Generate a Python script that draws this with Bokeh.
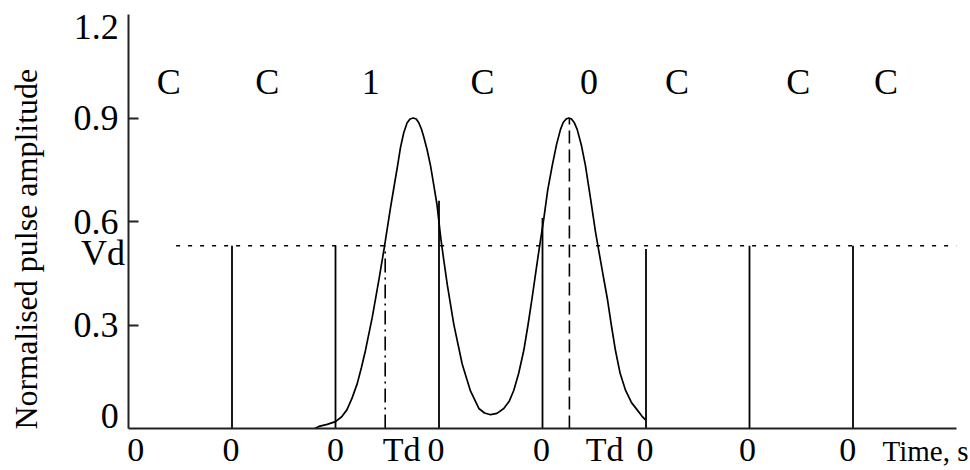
import math
from bokeh.plotting import figure
from bokeh.models import Range1d, FixedTicker
from bokeh.core.properties import value
from bokeh.embed import file_html
from bokeh.resources import INLINE

# ---- data ----
vd_level = 0.53
vd_line_t = [0.46, 8.0]

sample_t = [1, 2, 3, 4, 5, 6, 7]
sample_v = [0.53, 0.53, 0.66, 0.61, 0.52, 0.53, 0.53]

curve_t = [1.80, 1.84, 1.92, 2.00, 2.06, 2.11, 2.16, 2.21, 2.25, 2.29, 2.355, 2.42, 2.473,
           2.53, 2.565, 2.60, 2.628, 2.66, 2.692, 2.72, 2.751, 2.78, 2.805, 2.83, 2.853,
           2.885, 2.918, 2.95, 2.98, 3.02, 3.05, 3.08, 3.143, 3.224, 3.304, 3.385, 3.44,
           3.498, 3.56, 3.626, 3.68, 3.723, 3.77, 3.819, 3.86, 3.90, 3.964, 4.013, 4.05,
           4.094, 4.135, 4.174, 4.20, 4.228, 4.254, 4.28, 4.308, 4.335, 4.375, 4.415, 4.465,
           4.512, 4.544, 4.585, 4.625, 4.665, 4.705, 4.75, 4.802, 4.86, 4.915, 4.96, 4.995]
curve_v = [0.000, 0.006, 0.012, 0.020, 0.034, 0.054, 0.088, 0.130, 0.176, 0.227, 0.322, 0.432,
           0.527, 0.637, 0.700, 0.762, 0.815, 0.858, 0.886, 0.897, 0.900, 0.897, 0.886, 0.868,
           0.845, 0.808, 0.762, 0.705, 0.650, 0.545, 0.480, 0.417, 0.302, 0.187, 0.109, 0.058,
           0.045, 0.040, 0.044, 0.058, 0.080, 0.111, 0.160, 0.226, 0.300, 0.379, 0.513, 0.609,
           0.690, 0.762, 0.822, 0.867, 0.887, 0.897, 0.900, 0.897, 0.886, 0.867, 0.822, 0.762,
           0.665, 0.570, 0.515, 0.445, 0.379, 0.300, 0.226, 0.160, 0.111, 0.075, 0.054, 0.036,
           0.025]

td1_t = [2.48, 2.48]
td1_v = [0.0, 0.53]
td2_t = [4.26, 4.26]
td2_v = [0.0, 0.90]

symbols = ["C", "C", "1", "C", "0", "C", "C", "C"]
symbol_t = [0.39, 1.34, 2.34, 3.42, 4.45, 5.30, 6.47, 7.32]
symbol_v = [1.005] * len(symbols)

x_tick_pos = [0.07, 0.99, 2.0, 2.64, 2.97, 3.99, 4.60, 4.99, 5.98, 6.95]
x_tick_lab = ["0", "0", "0", "Td", "0", "0", "Td", "0", "0", "0"]

y_tick_pos = [0.3, 0.6, 0.9]
y_tick_lab = ["0.3", "0.6", "0.9"]

# texts that sit beside the y axis, outside the frame (position in data units)
side_text = ["1.2", "Vd", "0"]
side_t = [-0.095, -0.035, -0.095]
side_v = [1.163, 0.508, 0.037]

x_title = "Time, s"
x_title_t = [7.70]
x_title_v = [-0.066]

y_title = "Normalised pulse amplitude"
y_title_t = [-0.99]
y_title_v = [0.52]

FONT = "Liberation Serif"

p = figure(width=970, height=470, output_backend="svg", toolbar_location=None,
           x_range=Range1d(0, 8), y_range=Range1d(0, 1.2),
           min_border_left=128, min_border_right=14, min_border_top=14, min_border_bottom=38)
p.outline_line_color = None
p.xgrid.visible = False
p.ygrid.visible = False
p.background_fill_color = "white"
p.border_fill_color = "white"

# x axis
xa = p.xaxis[0]
xa.ticker = FixedTicker(ticks=x_tick_pos)
xa.major_label_overrides = {t: l for t, l in zip(x_tick_pos, x_tick_lab)}
xa.major_tick_in = 0
xa.major_tick_out = 0
xa.minor_tick_in = 0
xa.minor_tick_out = 0
xa.axis_line_width = 2
xa.axis_line_color = "#222222"
xa.major_label_standoff = 2
xa.major_label_text_font = FONT
xa.major_label_text_font_size = "34px"
xa.major_label_text_color = "black"

# y axis
ya = p.yaxis[0]
ya.ticker = FixedTicker(ticks=y_tick_pos)
ya.major_label_overrides = {t: l for t, l in zip(y_tick_pos, y_tick_lab)}
ya.major_tick_in = 10
ya.major_tick_out = 0
ya.minor_tick_in = 0
ya.minor_tick_out = 0
ya.major_tick_line_width = 2
ya.major_tick_line_color = "#222222"
ya.axis_line_width = 2
ya.axis_line_color = "#222222"
ya.major_label_standoff = 10
ya.major_label_text_font = FONT
ya.major_label_text_font_size = "36px"
ya.major_label_text_color = "black"

# Vd dotted level
p.line(vd_line_t, [vd_level, vd_level], line_color="black", line_width=1.5, line_dash="4 8")

# sample lines
p.segment(x0=sample_t, y0=[0] * len(sample_t), x1=sample_t, y1=sample_v,
          line_color="black", line_width=1.8)

# pulse curve
p.line(curve_t, curve_v, line_color="black", line_width=1.7)

# Td markers
p.line(td1_t, td1_v, line_color="black", line_width=1.6, line_dash="14 5 2 5")
p.line(td2_t, td2_v, line_color="black", line_width=1.6, line_dash="13 6")

# symbol row
p.text(x=symbol_t, y=symbol_v, text=symbols, text_font=value(FONT), text_font_size="36px",
       text_align="center", text_baseline="middle", text_color="black")

# "1.2", "Vd" and "0" beside the y axis
p.text(x=side_t, y=side_v, text=side_text, text_font=value(FONT), text_font_size="36px",
       text_align="right", text_baseline="middle", text_color="black", level="annotation")

# axis titles
p.text(x=x_title_t, y=x_title_v, text=[x_title], text_font=value(FONT), text_font_size="29px",
       text_align="center", text_baseline="middle", text_color="black", level="annotation")
p.text(x=y_title_t, y=y_title_v, text=[y_title], angle=math.pi / 2, text_font=value(FONT),
       text_font_size="32px", text_align="center", text_baseline="middle",
       text_color="black", level="annotation")

open("out.html", "w").write(file_html(p, INLINE))
